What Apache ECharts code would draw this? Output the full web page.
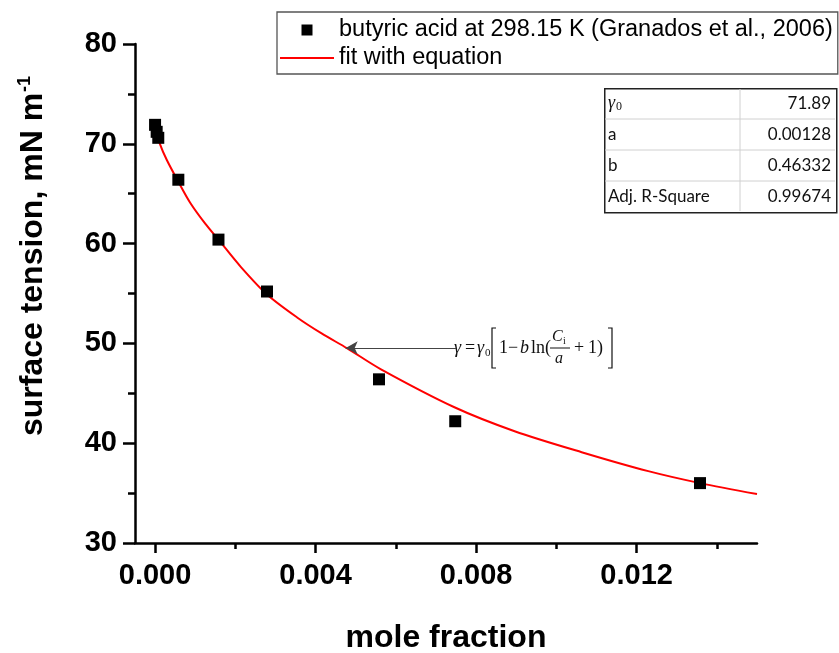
<!DOCTYPE html>
<html>
<head>
<meta charset="utf-8">
<script src="https://cdn.jsdelivr.net/npm/echarts@6/dist/echarts.min.js"></script>
<style>
html,body{margin:0;padding:0;background:#fff;}
#main{width:839px;height:653px;}
</style>
</head>
<body>
<div id="main"></div>
<script>
// ---- data ----
const dataX = [0, 0.00004, 0.00008, 0.00058, 0.00158, 0.00279, 0.00558, 0.00748, 0.01358];
const dataY = [71.9, 71.2, 70.6, 66.4, 60.4, 55.2, 46.4, 42.2, 36.0];

const fitX = [0, 0.00011, 0.00029, 0.00058, 0.000875, 0.00125, 0.00158, 0.00213, 0.00279, 0.00354, 0.00415, 0.00479, 0.00563, 0.00746, 0.00896, 0.01063, 0.01229, 0.01358, 0.015];
const fitY = [71.6, 70.1, 68.4, 66.2, 64.1, 62.0, 60.4, 57.7, 54.9, 52.6, 51.0, 49.5, 47.4, 43.6, 41.2, 39.1, 37.2, 36.0, 34.9];

const xMajorTicks = [0, 0.004, 0.008, 0.012];
const xMinorTicks = [0.002, 0.006, 0.010, 0.014];

const seriesNames = ['butyric acid at 298.15 K (Granados et al., 2006)', 'fit with equation'];

const tableRows = [
  ['{g|γ}{s|0}', '71.89'],
  ['a', '0.00128'],
  ['b', '0.46332'],
  ['Adj. R-Square', '0.99674']
];

const arrowFrom = [0.0075, 49.55];
const arrowTo = [0.00475, 49.55];

// ---- chart ----
const chart = echarts.init(document.getElementById('main'), null, {renderer: 'canvas'});

const pts = dataX.map((x, i) => [x, dataY[i]]);
const fit = fitX.map((x, i) => [x, fitY[i]]);

const axisFont = {fontFamily: 'Liberation Sans', fontWeight: 'bold', fontSize: 29, color: '#000'};

const tableGraphic = [];
const tX = 604, tY = 88, tW = 232, rowH = 31, colX = 136;
tableGraphic.push({type: 'rect', left: tX, top: tY, shape: {width: tW, height: rowH * 4}, style: {fill: '#fff', stroke: '#222', lineWidth: 1.5}, z: 10});
for (let r = 1; r < 4; r++) {
  tableGraphic.push({type: 'line', shape: {x1: tX + 1, y1: tY + r * rowH, x2: tX + tW - 1, y2: tY + r * rowH}, style: {stroke: '#d0d0d0', lineWidth: 1}, z: 11});
}
tableGraphic.push({type: 'line', shape: {x1: tX + colX, y1: tY + 1, x2: tX + colX, y2: tY + rowH * 4 - 1}, style: {stroke: '#d0d0d0', lineWidth: 1}, z: 11});
tableRows.forEach((row, r) => {
  tableGraphic.push({
    type: 'text', x: tX + 4, y: tY + r * rowH + rowH / 2, z: 12,
    style: {text: row[0], font: '17px Lato', fill: '#111', verticalAlign: 'middle', align: 'left',
      rich: {g: {fontFamily: 'Liberation Serif', fontStyle: 'italic', fontSize: 18}, s: {fontFamily: 'Liberation Serif', fontSize: 12, padding: [6, 0, 0, 1]}}}
  });
  tableGraphic.push({
    type: 'text', x: tX + tW - 5, y: tY + r * rowH + rowH / 2, z: 12,
    style: {text: row[1], font: '17px Lato', fill: '#111', verticalAlign: 'middle', align: 'right'}
  });
});

const eqFont = 'italic 18px "Liberation Serif"';
const eqFontN = '18px "Liberation Serif"';
const eqY = 348;
const eq = [
  {type: 'text', x: 454, y: eqY, style: {text: 'γ', font: eqFont, fill: '#111', verticalAlign: 'middle'}},
  {type: 'text', x: 465, y: eqY, style: {text: '=', font: eqFontN, fill: '#111', verticalAlign: 'middle'}},
  {type: 'text', x: 477, y: eqY, style: {text: 'γ', font: eqFont, fill: '#111', verticalAlign: 'middle'}},
  {type: 'text', x: 485, y: eqY + 5, style: {text: '0', font: '11px "Liberation Serif"', fill: '#111', verticalAlign: 'middle'}},
  {type: 'polyline', shape: {points: [[496, 328], [492, 328], [492, 368], [496, 368]]}, style: {stroke: '#111', lineWidth: 1.2, fill: null}},
  {type: 'text', x: 499, y: eqY, style: {text: '1', font: eqFontN, fill: '#111', verticalAlign: 'middle'}},
  {type: 'text', x: 508, y: eqY, style: {text: '−', font: eqFontN, fill: '#111', verticalAlign: 'middle'}},
  {type: 'text', x: 520, y: eqY, style: {text: 'b', font: eqFont, fill: '#111', verticalAlign: 'middle'}},
  {type: 'text', x: 531, y: eqY, style: {text: 'ln(', font: eqFontN, fill: '#111', verticalAlign: 'middle'}},
  {type: 'text', x: 552, y: eqY - 11, style: {text: 'C', font: 'italic 16px "Liberation Serif"', fill: '#111', verticalAlign: 'middle'}},
  {type: 'text', x: 563, y: eqY - 7, style: {text: 'i', font: '10px "Liberation Serif"', fill: '#111', verticalAlign: 'middle'}},
  {type: 'line', shape: {x1: 550, y1: eqY, x2: 570, y2: eqY}, style: {stroke: '#111', lineWidth: 1}},
  {type: 'text', x: 555, y: eqY + 11, style: {text: 'a', font: 'italic 16px "Liberation Serif"', fill: '#111', verticalAlign: 'middle'}},
  {type: 'text', x: 574, y: eqY, style: {text: '+', font: eqFontN, fill: '#111', verticalAlign: 'middle'}},
  {type: 'text', x: 588, y: eqY, style: {text: '1)', font: eqFontN, fill: '#111', verticalAlign: 'middle'}},
  {type: 'polyline', shape: {points: [[608, 328], [612, 328], [612, 368], [608, 368]]}, style: {stroke: '#111', lineWidth: 1.2, fill: null}}
];

const yName = {
  type: 'text', x: 33, y: 256, rotation: Math.PI / 2,
  style: {
    text: 'surface tension, mN m{sup|-1}', font: 'bold 32px "Liberation Sans"', fill: '#000',
    align: 'center', verticalAlign: 'middle',
    rich: {sup: {fontFamily: 'Liberation Sans', fontWeight: 'bold', fontSize: 18, padding: [0, 0, 16, 1]}}
  }
};

const option = {
  animation: false,
  backgroundColor: '#fff',
  grid: {left: 135, right: 82, top: 44, bottom: 110, containLabel: false, outerBoundsMode: 'none'},
  legend: {
    orient: 'vertical', left: 277, top: 12,
    itemWidth: 54, itemHeight: 11, itemGap: 4,
    padding: [6, 5, 4, 3],
    borderColor: '#555', borderWidth: 1.3,
    textStyle: {fontFamily: 'Liberation Sans', fontSize: 23.5, color: '#000'},
    data: [
      {name: seriesNames[0], icon: 'path://M0 0H10V10H0Z'},
      {name: seriesNames[1], icon: 'path://M0 0H54V2H0Z'}
    ]
  },
  xAxis: [
    {
      type: 'value', min: -0.0005, max: 0.015, position: 'bottom',
      axisLine: {show: true, onZero: false, lineStyle: {color: '#000', width: 2.5}},
      axisTick: {show: true, customValues: xMajorTicks, length: 10, lineStyle: {color: '#000', width: 2.5}},
      axisLabel: {customValues: xMajorTicks, formatter: v => v.toFixed(3), margin: 18, ...axisFont},
      splitLine: {show: false},
      name: 'mole fraction', nameLocation: 'middle', nameGap: 79,
      nameTextStyle: {fontFamily: 'Liberation Sans', fontWeight: 'bold', fontSize: 32, color: '#000'}
    },
    {
      type: 'value', min: -0.0005, max: 0.015, position: 'bottom',
      axisLine: {show: false},
      axisTick: {show: true, customValues: xMinorTicks, length: 6, lineStyle: {color: '#000', width: 2.5}},
      axisLabel: {show: false},
      splitLine: {show: false}
    }
  ],
  yAxis: {
    type: 'value', min: 30, max: 80, interval: 10,
    axisLine: {show: true, onZero: false, lineStyle: {color: '#000', width: 2.5}},
    axisTick: {show: true, length: 12, lineStyle: {color: '#000', width: 2.5}},
    minorTick: {show: true, splitNumber: 2, length: 7, lineStyle: {color: '#000', width: 2.5}},
    axisLabel: {margin: 18, ...axisFont},
    splitLine: {show: false}
  },
  series: [
    {
      name: seriesNames[0], type: 'scatter', xAxisIndex: 0, data: pts,
      symbol: 'rect', symbolSize: 12, itemStyle: {color: '#000', opacity: 1}, z: 3,
      markLine: {
        silent: true, symbol: ['none', 'arrow'], symbolSize: [10, 12],
        label: {show: false},
        lineStyle: {color: '#444', width: 1, type: 'solid'},
        data: [[{coord: arrowFrom}, {coord: arrowTo}]]
      }
    },
    {
      name: seriesNames[1], type: 'line', xAxisIndex: 0, data: fit,
      symbol: 'none', smooth: 0.3,
      lineStyle: {color: '#f00', width: 2}, itemStyle: {color: '#f00'}, z: 2
    }
  ],
  graphic: [yName, ...tableGraphic, ...eq]
};

chart.setOption(option);
</script>
</body>
</html>
